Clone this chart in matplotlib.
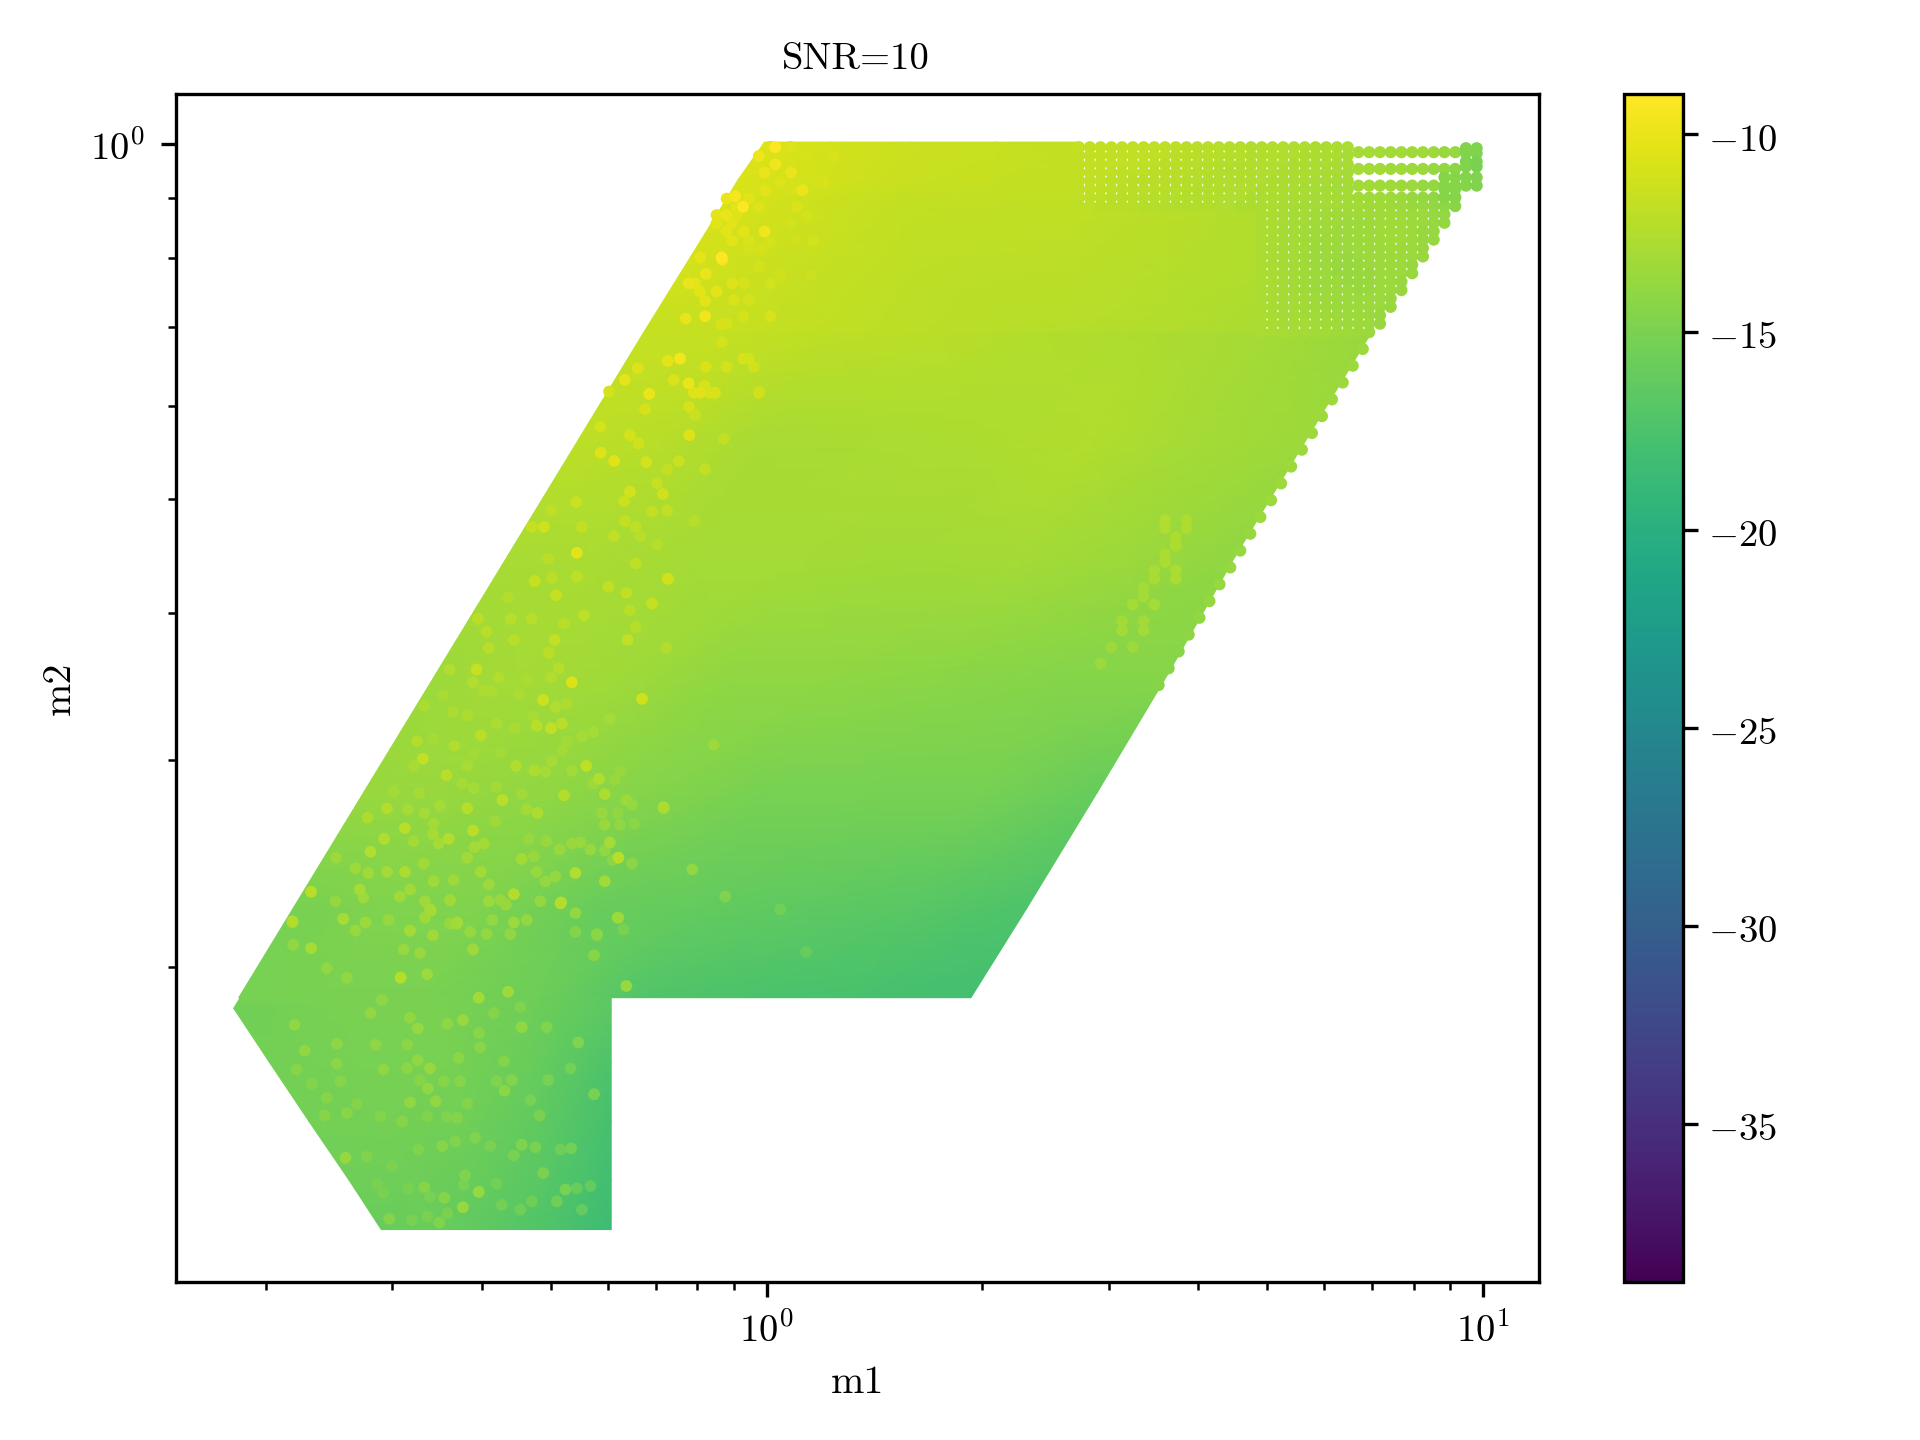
import numpy as np
import matplotlib
matplotlib.use("Agg")
import matplotlib.pyplot as plt
from matplotlib.colors import Normalize
from matplotlib.ticker import LogFormatterMathtext, NullFormatter
from matplotlib.transforms import ScaledTranslation

plt.rcParams['font.family'] = ['cmr10', 'DejaVu Sans']
plt.rcParams['mathtext.fontset'] = 'cm'
plt.rcParams['axes.formatter.use_mathtext'] = True
plt.rcParams['axes.unicode_minus'] = False

# smooth body of the cloud: four patches, row by row
top_m2 = [[0.002] * 5, [-0.03] * 5, [-0.05] * 5]
top_m1 = [[-0.003, 0.09, 0.20, 0.32, 0.436],
          [-0.04, 0.07, 0.20, 0.32, 0.436],
          [-0.06, 0.06, 0.20, 0.32, 0.436]]
top_val = [[-10.6, -11.0, -11.4, -11.5, -11.7],
           [-10.7, -11.1, -11.5, -11.6, -11.8],
           [-10.8, -11.3, -11.7, -11.8, -11.9]]

mid_m2 = [[-0.05] * 6, [-0.11] * 6, [-0.16] * 6]
mid_m1 = [[-0.06, 0.06, 0.20, 0.436, 0.56, 0.691],
          [-0.121, 0.02, 0.20, 0.436, 0.56, 0.691],
          [-0.172, -0.02, 0.15, 0.436, 0.56, 0.691]]
mid_val = [[-10.8, -11.3, -11.8, -11.9, -12.1, -12.4],
           [-11.0, -11.5, -12.0, -12.1, -12.3, -12.6],
           [-11.6, -11.6, -12.0, -12.3, -12.5, -12.8]]

main_m2 = [[-0.16] * 8, [-0.25] * 8, [-0.35] * 8, [-0.45] * 8,
           [-0.55] * 8, [-0.65] * 8, [-0.725] * 8]
main_m1 = [[-0.172, -0.06, 0.09, 0.24, 0.39, 0.54, 0.69, 0.844],
           [-0.262, -0.15, 0.00, 0.15, 0.30, 0.45, 0.60, 0.754],
           [-0.362, -0.25, -0.10, 0.05, 0.20, 0.35, 0.50, 0.654],
           [-0.462, -0.35, -0.20, -0.05, 0.10, 0.25, 0.40, 0.560],
           [-0.562, -0.45, -0.30, -0.15, 0.00, 0.15, 0.30, 0.462],
           [-0.662, -0.55, -0.40, -0.25, -0.10, 0.05, 0.20, 0.362],
           [-0.737, -0.625, -0.475, -0.325, -0.175, -0.025, 0.125, 0.285]]
main_val = [[-11.6, -11.6, -12.0, -12.1, -12.4, -12.7, -13.0, -13.6],
            [-12.0, -12.2, -12.9, -12.8, -12.7, -12.5, -13.0, -13.4],
            [-12.9, -12.8, -13.0, -13.1, -13.2, -13.1, -13.4, -14.0],
            [-13.4, -13.1, -13.3, -14.0, -14.0, -14.2, -14.5, -14.4],
            [-13.6, -13.6, -14.0, -14.6, -15.2, -15.2, -15.2, -16.0],
            [-15.2, -14.8, -14.8, -15.8, -16.2, -16.5, -16.8, -17.4],
            [-15.2, -15.0, -15.0, -15.6, -17.2, -17.5, -17.7, -18.0]]

low_m2 = [[-0.725] * 5, [-0.734] * 5, [-0.78] * 5, [-0.83] * 5,
          [-0.88] * 5, [-0.922] * 5]
low_m1 = [[-0.735, -0.60, -0.45, -0.33, -0.217],
          [-0.744, -0.60, -0.45, -0.33, -0.217],
          [-0.694, -0.57, -0.44, -0.33, -0.217],
          [-0.639, -0.53, -0.42, -0.32, -0.217],
          [-0.583, -0.49, -0.40, -0.31, -0.217],
          [-0.538, -0.46, -0.38, -0.30, -0.217]]
low_val = [[-15.2, -15.0, -15.0, -15.6, -16.5],
           [-15.5, -15.0, -15.0, -15.6, -16.6],
           [-15.4, -15.1, -15.2, -15.8, -17.4],
           [-15.4, -15.3, -15.5, -16.3, -17.8],
           [-15.6, -15.6, -16.0, -16.8, -18.1],
           [-16.0, -15.9, -16.6, -17.4, -18.4]]

# regular columns of dots at the upper right
grid_m1 = [0.436, 0.451, 0.466, 0.481, 0.496, 0.511, 0.526, 0.541, 0.556, 0.571,
           0.586, 0.601, 0.616, 0.631, 0.646, 0.661, 0.676, 0.691, 0.706, 0.721,
           0.736, 0.751, 0.766, 0.781, 0.796, 0.811, 0.826, 0.841, 0.856, 0.871,
           0.886, 0.901, 0.916, 0.931, 0.946, 0.961, 0.976, 0.991]
grid_m2 = [-0.0024, -0.0095, -0.0167, -0.0238, -0.0309, -0.0381,
           -0.0452, -0.0524,
           -0.0595, -0.0666, -0.0738, -0.0809, -0.0881, -0.0952, -0.1023,
           -0.1095, -0.1166, -0.1238, -0.1309, -0.138, -0.1452, -0.1523, -0.1595,
           -0.0066, -0.0208, -0.035,
           -0.0032, -0.0075, -0.0146, -0.0189, -0.028, -0.035,
           -0.028, -0.038, -0.045]
grid_first = [0, 0, 0, 0, 0, 0,
              0, 0,
              17, 17, 17, 17, 17, 17, 17, 17, 17, 17, 17, 17, 17, 17, 17,
              26, 26, 26,
              36, 36, 36, 36, 36, 36,
              34, 34, 34]
grid_val = [
    [-11.6, -11.7, -11.7, -11.8, -11.8, -11.9, -11.9, -11.9, -12.0, -12.0, -12.1, -12.1, -12.2,
     -12.2, -12.3, -12.3, -12.4, -12.4, -12.5, -12.5, -12.6, -12.6, -12.7, -12.7, -12.8, -12.8],
    [-11.7, -11.7, -11.8, -11.8, -11.9, -11.9, -11.9, -12.0, -12.0, -12.1, -12.1, -12.2, -12.2,
     -12.3, -12.3, -12.3, -12.4, -12.5, -12.5, -12.6, -12.6, -12.7, -12.7, -12.8, -12.8, -12.9],
    [-11.7, -11.8, -11.8, -11.9, -11.9, -11.9, -12.0, -12.0, -12.1, -12.1, -12.2, -12.2, -12.3,
     -12.3, -12.3, -12.4, -12.4, -12.5, -12.6, -12.6, -12.7, -12.7, -12.8, -12.8, -12.9, -12.9],
    [-11.8, -11.8, -11.9, -11.9, -12.0, -12.0, -12.0, -12.1, -12.1, -12.2, -12.2, -12.3, -12.3,
     -12.4, -12.4, -12.4, -12.5, -12.6, -12.6, -12.7, -12.7, -12.8, -12.8, -12.9, -12.9, -13.0],
    [-11.8, -11.9, -11.9, -12.0, -12.0, -12.1, -12.1, -12.1, -12.2, -12.2, -12.3, -12.3, -12.4,
     -12.4, -12.5, -12.5, -12.6, -12.6, -12.7, -12.7, -12.8, -12.8, -12.9, -12.9, -13.0, -13.0],
    [-11.9, -11.9, -12.0, -12.0, -12.1, -12.1, -12.2, -12.2, -12.2, -12.3, -12.3, -12.4, -12.4,
     -12.5, -12.5, -12.6, -12.6, -12.7, -12.7, -12.8, -12.8, -12.9, -12.9, -13.0, -13.0, -13.1],
    [-11.9, -12.0, -12.0, -12.1, -12.1, -12.2, -12.2, -12.3, -12.3, -12.3, -12.4, -12.4, -12.5,
     -12.5, -12.6, -12.6, -12.7, -12.7, -12.8, -12.8, -12.9, -12.9, -13.0, -13.0, -13.1, -13.1,
     -13.2, -13.3, -13.3, -13.3, -13.4, -13.6, -13.8, -14.0, -14.2, -14.4],
    [-12.0, -12.0, -12.1, -12.1, -12.2, -12.2, -12.3, -12.3, -12.4, -12.4, -12.5, -12.5, -12.5,
     -12.6, -12.6, -12.7, -12.7, -12.8, -12.8, -12.9, -12.9, -13.0, -13.0, -13.1, -13.1, -13.2,
     -13.2, -13.3, -13.3, -13.4, -13.5, -13.6, -13.8, -13.9, -14.1, -14.3],
    [-12.7, -12.8, -12.9, -13.0, -13.1, -13.2, -13.2, -13.3, -13.3, -13.3, -13.3, -13.3, -13.3, -13.3, -13.4, -13.5, -13.7, -13.9],
    [-12.7, -12.8, -12.9, -13.0, -13.1, -13.2, -13.3, -13.3, -13.4, -13.4, -13.4, -13.3, -13.3, -13.3, -13.4, -13.5, -13.7, -13.9],
    [-12.8, -12.8, -13.0, -13.0, -13.2, -13.3, -13.3, -13.4, -13.4, -13.4, -13.4, -13.3, -13.3, -13.3, -13.4, -13.6, -13.8],
    [-12.8, -12.9, -13.0, -13.1, -13.2, -13.3, -13.4, -13.4, -13.5, -13.5, -13.4, -13.4, -13.3, -13.3, -13.4, -13.6, -13.8],
    [-12.8, -12.9, -13.0, -13.1, -13.2, -13.4, -13.4, -13.5, -13.5, -13.5, -13.4, -13.4, -13.3, -13.4, -13.5, -13.6],
    [-12.8, -12.9, -13.0, -13.1, -13.3, -13.4, -13.5, -13.5, -13.6, -13.5, -13.5, -13.4, -13.4, -13.4, -13.5, -13.6],
    [-12.8, -12.9, -13.0, -13.1, -13.3, -13.4, -13.5, -13.6, -13.6, -13.6, -13.5, -13.5, -13.4, -13.5, -13.6],
    [-12.8, -12.9, -13.0, -13.2, -13.3, -13.4, -13.5, -13.6, -13.6, -13.6, -13.6, -13.5, -13.5, -13.5, -13.6],
    [-12.8, -12.9, -13.0, -13.2, -13.3, -13.4, -13.5, -13.5, -13.6, -13.6, -13.6, -13.5, -13.5, -13.6],
    [-12.8, -12.9, -13.0, -13.2, -13.3, -13.4, -13.5, -13.5, -13.5, -13.6, -13.6, -13.5, -13.5, -13.6],
    [-12.8, -12.9, -13.0, -13.1, -13.2, -13.3, -13.4, -13.5, -13.5, -13.5, -13.5, -13.5, -13.6],
    [-12.8, -12.9, -13.0, -13.1, -13.2, -13.3, -13.4, -13.5, -13.5, -13.5, -13.5, -13.5, -13.6],
    [-12.8, -12.9, -13.0, -13.1, -13.2, -13.2, -13.3, -13.4, -13.4, -13.5, -13.5, -13.6],
    [-12.8, -12.9, -13.0, -13.0, -13.1, -13.2, -13.3, -13.3, -13.4, -13.4, -13.5, -13.6],
    [-12.8, -12.9, -12.9, -13.0, -13.1, -13.2, -13.2, -13.3, -13.3, -13.4, -13.5],
    [-13.0, -13.1, -13.1, -13.2, -13.2, -13.3, -13.3, -13.4, -13.6, -13.8],
    [-13.1, -13.2, -13.2, -13.3, -13.3, -13.4, -13.5, -13.7, -13.9, -14.2],
    [-13.2, -13.2, -13.3, -13.3, -13.4, -13.5, -13.7, -13.9, -14.1, -14.4],
    [-14.7, -14.8], [-14.7, -14.8], [-14.8, -15.0], [-14.8, -15.0], [-14.6, -14.7], [-14.6, -14.7],
    [-14.4, -14.5], [-14.4, -14.5], [-14.4, -14.5],
]

# scalloped edge on the right side
edge_m2 = [-0.1738, -0.188, -0.2023, -0.2166, -0.2309, -0.2452, -0.2594, -0.2737, -0.288, -0.3023,
           -0.3166, -0.3308, -0.3451, -0.3594, -0.3737, -0.388, -0.4022, -0.4165, -0.4308, -0.4451,
           -0.4594]
edge_m1 = [0.832, 0.818, 0.804, 0.789, 0.775, 0.761, 0.747, 0.732, 0.718, 0.704,
           0.689, 0.675, 0.661, 0.647, 0.632, 0.618, 0.604, 0.589, 0.575, 0.561, 0.547]
edge_val = [-13.5, -13.5, -13.5, -13.5, -13.4, -13.4, -13.4, -13.4, -13.4, -13.5,
            -13.5, -13.6, -13.7, -13.8, -13.8, -13.9, -14.0, -14.1, -14.2, -14.3, -14.4]

# stray brighter dots
speck_m1 = [-0.662, -0.591, -0.470, -0.433, -0.288, -0.207, -0.498, -0.410, -0.511, -0.474, -0.402, -0.361,
            -0.196, -0.424, -0.342, -0.487, -0.659, -0.645, -0.470, -0.487, -0.263, -0.356, -0.366, -0.473,
            -0.498, -0.462, -0.586, -0.617, -0.241, -0.432, -0.317, -0.588, -0.453, -0.342, -0.323, -0.312,
            -0.478, -0.402, -0.424, -0.450, -0.527, -0.457, -0.281, -0.421, -0.273, -0.241, -0.237,
            -0.138, -0.074, -0.144, -0.062, -0.138, -0.164, -0.087, -0.010, 0.116,
            -0.104, 0.019, 0.055, -0.058, -0.207,
            -0.232, -0.198, -0.113, -0.044, 0.012, -0.033, -0.063, -0.003, -0.086, 0.012, -0.011, -0.003,
            0.034, 0.050, -0.048, 0.005, -0.121, -0.109, -0.093, -0.011, -0.033,
            -0.213, -0.168, -0.123, -0.108, -0.191, -0.232, -0.179, -0.086, -0.139, -0.153, -0.191, -0.145,
            -0.266, -0.199, -0.160, -0.301, -0.139, -0.198, -0.101, -0.328, -0.311, -0.258, -0.183, -0.213,
            -0.176, -0.153, -0.265, -0.305, -0.183, -0.324, -0.300, -0.265, -0.138, -0.294, -0.221, -0.196,
            -0.160, -0.361, -0.191, -0.255, -0.403, -0.357, -0.328, -0.283, -0.183, -0.391, -0.353, -0.296,
            -0.194, -0.388, -0.140, -0.304,
            -0.272, -0.312, -0.174, -0.405, -0.290, -0.321, -0.301, -0.286, -0.399, -0.436, -0.480, -0.488,
            -0.252, -0.350, -0.447, -0.324, -0.234, -0.226, -0.283, -0.369, -0.144, -0.418, -0.530, -0.557,
            -0.320, -0.410, -0.505, -0.444, -0.534, -0.219, -0.553, -0.342, -0.505, -0.399, -0.267, -0.226,
            -0.636, -0.568, -0.353, -0.287, -0.469, -0.591, -0.662, -0.432, -0.498, -0.208, -0.636, -0.466,
            -0.237, -0.353,
            -0.109, -0.085, -0.048, -0.056, 0.042, 0.065, -0.011, -0.056, -0.025, -0.093, -0.032, -0.086,
            -0.025, -0.085, -0.22, -0.17, -0.13, -0.18, -0.10, -0.06,
            0.556, 0.556, 0.571, 0.571, 0.556, 0.556, 0.541, 0.541, 0.571, 0.571, 0.526, 0.526,
            0.511, 0.541, 0.496, 0.496, 0.526, 0.526, 0.481, 0.511, 0.466, 0.586, 0.586]
speck_m2 = [-0.661, -0.658, -0.650, -0.662, -0.645, -0.657, -0.668, -0.684, -0.708, -0.705, -0.725, -0.720,
            -0.715, -0.744, -0.750, -0.751, -0.748, -0.770, -0.785, -0.778, -0.763, -0.795, -0.804, -0.802,
            -0.814, -0.813, -0.823, -0.825, -0.807, -0.827, -0.825, -0.861, -0.851, -0.850, -0.852, -0.874,
            -0.886, -0.890, -0.903, -0.895, -0.913, -0.916, -0.888, -0.876, -0.853, -0.689, -0.672,
            -0.369, -0.510, -0.564, -0.098, -0.184, -0.212, -0.205, -0.210, -0.281,
            -0.616, -0.650, -0.686, -0.639, -0.606,
            -0.262, -0.200, -0.148, -0.044, -0.0024, -0.053, -0.096, -0.074, -0.146, -0.017, -0.0098, -0.024,
            -0.024, -0.039, -0.082, -0.146, -0.182, -0.203, -0.211, -0.211, -0.182,
            -0.269, -0.270, -0.269, -0.247, -0.247, -0.240, -0.254, -0.276, -0.276, -0.288, -0.295, -0.297,
            -0.304, -0.303, -0.312, -0.311, -0.311, -0.320, -0.320, -0.325, -0.325, -0.325, -0.325, -0.333,
            -0.333, -0.340, -0.347, -0.352, -0.356, -0.371, -0.368, -0.367, -0.369, -0.383, -0.376, -0.381,
            -0.390, -0.385, -0.396, -0.400, -0.403, -0.403, -0.403, -0.407, -0.410, -0.414, -0.421, -0.421,
            -0.421, -0.428, -0.428, -0.432,
            -0.457, -0.472, -0.471, -0.446, -0.445, -0.494, -0.496, -0.492, -0.502, -0.511, -0.522, -0.507,
            -0.528, -0.528, -0.536, -0.532, -0.539, -0.552, -0.553, -0.557, -0.563, -0.564, -0.564, -0.572,
            -0.568, -0.583, -0.581, -0.590, -0.590, -0.593, -0.601, -0.607, -0.618, -0.618, -0.619, -0.626,
            -0.635, -0.633, -0.637, -0.644, -0.651, -0.658, -0.660, -0.661, -0.668, -0.657, -0.683, -0.672,
            -0.671, -0.661,
            -0.118, -0.110, -0.118, -0.152, -0.053, -0.082, -0.053, -0.060, -0.089, -0.096, -0.118, -0.133,
            -0.182, -0.189, -0.21, -0.225, -0.20, -0.19, -0.23, -0.25,
            -0.319, -0.326, -0.334, -0.341, -0.348, -0.355, -0.362, -0.369, -0.362, -0.369, -0.377, -0.384,
            -0.391, -0.391, -0.405, -0.413, -0.405, -0.413, -0.427, -0.427, -0.441, -0.319, -0.326]
speck_val = [-13.2, -13.2, -13.0, -13.0, -12.8, -13.8, -13.4, -13.4, -12.3, -13.5, -13.2, -13.4,
             -13.8, -13.6, -14.0, -13.8, -14.0, -14.0, -13.6, -14.0, -14.8, -14.6, -14.2, -14.0,
             -14.0, -14.0, -14.3, -14.5, -15.2, -14.6, -15.0, -13.8, -14.4, -14.8, -15.0, -15.0,
             -14.5, -13.8, -13.8, -14.4, -14.6, -14.8, -15.2, -14.8, -15.4, -14.5, -14.7,
             -11.0, -13.5, -13.0, -9.6, -10.2, -10.0, -10.8, -11.6, -12.8,
             -14.0, -15.5, -16.0, -14.8, -12.2,
             -10.6, -10.2, -10.1, -9.4, -9.1, -9.2, -9.0, -9.7, -9.6, -9.7, -9.8, -10.0,
             -10.0, -10.0, -10.3, -10.8, -9.5, -10.0, -10.5, -11.2, -10.8,
             -10.5, -11.0, -11.4, -10.6, -11.1, -11.0, -11.2, -11.8, -11.8, -11.6, -11.0, -11.2,
             -11.4, -11.4, -11.8, -12.0, -11.9, -11.7, -12.3, -11.6, -11.3, -11.8, -12.0, -11.9,
             -12.2, -12.3, -10.3, -12.1, -12.0, -11.6, -12.1, -12.0, -11.2, -11.6, -11.8, -11.9,
             -11.6, -12.4, -12.1, -12.0, -12.1, -12.2, -12.2, -12.2, -12.3, -12.2, -12.2, -11.7,
             -11.9, -12.2, -12.5, -12.1,
             -10.7, -11.4, -11.2, -11.6, -12.3, -12.2, -11.9, -12.2, -12.1, -12.6, -11.8, -12.5,
             -12.0, -12.6, -12.2, -12.7, -12.6, -12.7, -12.4, -12.2, -12.8, -12.3, -12.4, -12.7,
             -12.7, -12.2, -12.2, -12.4, -12.6, -13.0, -12.6, -13.2, -12.8, -13.2, -12.6, -13.2,
             -12.2, -13.0, -12.5, -12.4, -13.0, -13.0, -12.4, -13.2, -13.2, -13.5, -13.0, -13.3,
             -14.2, -13.5,
             -10.0, -10.0, -10.6, -10.9, -10.7, -11.0, -10.6, -10.0, -11.0, -10.2, -10.9, -10.4,
             -11.0, -10.8, -11.0, -10.9, -10.7, -10.6, -11.5, -11.8,
             -12.6, -12.6, -12.7, -12.7, -12.8, -12.8, -12.9, -12.9, -12.8, -12.8, -13.0, -13.0,
             -13.1, -13.1, -13.2, -13.2, -13.2, -13.2, -13.4, -13.4, -13.5, -12.7, -12.7]

# fainter dots of the left band, lower middle part
faint_m1 = [-0.195, -0.176, -0.219, -0.242, -0.258, -0.279, -0.286, -0.300, -0.272, -0.309, -0.204, -0.212,
            -0.242, -0.226, -0.205, -0.185, -0.230, -0.208, -0.196, -0.188, -0.260, -0.272, -0.308, -0.289,
            -0.246, -0.226, -0.215, -0.188, -0.267, -0.309, -0.295, -0.321, -0.372, -0.409, -0.418, -0.493,
            -0.465, -0.451, -0.438, -0.478, -0.418, -0.377, -0.351, -0.395, -0.384, -0.346, -0.326, -0.295,
            -0.279, -0.335, -0.301, -0.374, -0.443, -0.410, -0.425, -0.409, -0.377, -0.342, -0.485, -0.521,
            -0.501, -0.478, -0.456, -0.379, -0.335, -0.465, -0.493, -0.466, -0.458, -0.408, -0.395, -0.332,
            -0.325, -0.418, -0.479, -0.530, -0.574, -0.601, -0.556, -0.477, -0.442, -0.388, -0.372, -0.364,
            -0.316, -0.335, -0.383, -0.442, -0.477, -0.560, -0.528, -0.574, -0.507, -0.484, -0.414, -0.391,
            -0.358, -0.267, -0.200, -0.661, -0.602, -0.563, -0.512, -0.498, -0.465, -0.437, -0.388]
faint_m2 = [-0.457, -0.460, -0.488, -0.499, -0.503, -0.507, -0.515, -0.524, -0.532, -0.533, -0.532, -0.540,
            -0.543, -0.578, -0.578, -0.577, -0.568, -0.568, -0.557, -0.561, -0.593, -0.594, -0.592, -0.599,
            -0.599, -0.600, -0.608, -0.611, -0.653, -0.626, -0.622, -0.618, -0.517, -0.518, -0.528, -0.528,
            -0.505, -0.468, -0.482, -0.477, -0.485, -0.492, -0.496, -0.464, -0.464, -0.467, -0.486, -0.478,
            -0.475, -0.455, -0.453, -0.453, -0.446, -0.457, -0.543, -0.547, -0.546, -0.552, -0.551, -0.550,
            -0.565, -0.568, -0.562, -0.575, -0.565, -0.577, -0.592, -0.586, -0.594, -0.597, -0.594, -0.590,
            -0.605, -0.606, -0.611, -0.618, -0.615, -0.606, -0.619, -0.643, -0.642, -0.643, -0.642, -0.646,
            -0.643, -0.659, -0.659, -0.662, -0.657, -0.661, -0.659, -0.668, -0.684, -0.687, -0.669, -0.671,
            -0.671, -0.669, -0.667, -0.680, -0.643, -0.640, -0.639, -0.633, -0.626, -0.625, -0.629]
faint_val = [-13.4, -13.5, -13.0, -13.1, -13.1, -13.2, -13.2, -13.1, -13.2, -13.0, -13.6, -13.6,
             -13.4, -13.6, -14.0, -14.2, -13.6, -14.0, -13.4, -13.8, -13.6, -13.6, -13.6, -13.6,
             -13.7, -14.0, -14.2, -14.2, -14.0, -13.9, -13.9, -13.7, -13.2, -13.2, -12.9, -12.9,
             -13.0, -12.9, -12.8, -12.8, -12.7, -12.8, -12.9, -12.7, -12.7, -12.8, -12.9, -12.6,
             -12.7, -12.8, -12.6, -12.6, -12.6, -12.6, -13.1, -13.0, -13.2, -13.3, -13.1, -13.2,
             -13.1, -13.0, -13.1, -13.4, -13.2, -13.2, -13.2, -13.0, -13.1, -13.2, -13.2, -13.6,
             -13.6, -13.3, -13.3, -13.2, -13.4, -13.5, -13.3, -13.4, -13.3, -13.5, -13.6, -13.6,
             -13.9, -13.9, -13.9, -13.6, -13.4, -13.4, -13.6, -13.7, -13.8, -13.6, -13.7, -13.9,
             -14.0, -14.6, -15.0, -14.0, -13.9, -13.5, -13.3, -13.3, -13.3, -13.4, -13.5]

# fainter dots at the lower left corner
corner_m1 = [-0.614, -0.586, -0.537, -0.553, -0.498, -0.446, -0.402, -0.502, -0.546, -0.600, -0.656, -0.600,
             -0.535, -0.502, -0.430, -0.400, -0.367, -0.451, -0.428, -0.484, -0.595, -0.635, -0.614, -0.572,
             -0.539, -0.509, -0.474, -0.446, -0.418, -0.377, -0.330, -0.305, -0.274, -0.307, -0.344, -0.381,
             -0.544, -0.535, -0.500, -0.470, -0.423, -0.377, -0.370, -0.328, -0.344, -0.293, -0.258, -0.446,
             -0.474, -0.495, -0.558, -0.523, -0.486, -0.435, -0.407, -0.386, -0.353, -0.288, -0.265, -0.246]
corner_m2 = [-0.700, -0.708, -0.727, -0.738, -0.742, -0.747, -0.755, -0.765, -0.765, -0.764, -0.786, -0.781,
             -0.786, -0.785, -0.776, -0.767, -0.779, -0.796, -0.796, -0.795, -0.796, -0.798, -0.810, -0.815,
             -0.826, -0.830, -0.826, -0.826, -0.815, -0.796, -0.812, -0.795, -0.785, -0.750, -0.733, -0.738,
             -0.883, -0.891, -0.887, -0.894, -0.884, -0.883, -0.901, -0.898, -0.905, -0.898, -0.905, -0.908,
             -0.911, -0.914, -0.860, -0.868, -0.854, -0.847, -0.844, -0.851, -0.859, -0.854, -0.887, -0.885]
corner_val = [-14.0, -14.0, -14.1, -14.0, -14.0, -14.1, -14.3, -14.2, -14.1, -14.1, -14.4, -14.2,
              -14.1, -14.2, -14.2, -14.3, -14.6, -14.4, -14.5, -14.5, -14.5, -14.6, -14.4, -14.6,
              -14.6, -14.5, -14.7, -14.7, -14.6, -14.8, -15.2, -15.2, -15.4, -14.8, -14.8, -14.6,
              -15.0, -15.0, -15.0, -15.2, -15.2, -15.4, -15.4, -15.6, -15.6, -15.6, -16.2, -15.0,
              -15.0, -15.0, -14.8, -14.9, -14.8, -14.8, -14.8, -15.0, -15.2, -15.6, -16.0, -16.2]

# fainter dots at the top of the left band
band_m1 = [0.005, 0.033, 0.056, 0.093, 0.079, 0.019, 0.072, 0.042, -0.002, -0.025, -0.042, -0.056,
           -0.070, -0.041, -0.032, -0.056, -0.070, 0.056, 0.033, 0.005, -0.025, -0.049, 0.042, -0.011,
           -0.009, -0.100, -0.093, -0.070, -0.025, -0.046, 0.005, 0.019, 0.061, -0.063, -0.033, -0.063,
           -0.056, -0.018, -0.102, -0.079, -0.072, -0.108]
band_m2 = [-0.002, -0.002, -0.010, -0.010, -0.032, -0.032, -0.032, -0.039, -0.039, -0.046, -0.053, -0.046,
           -0.060, -0.060, -0.074, -0.074, -0.067, -0.061, -0.067, -0.083, -0.082, -0.067, -0.081, -0.104,
           -0.089, -0.118, -0.125, -0.125, -0.132, -0.132, -0.118, -0.111, -0.111, -0.168, -0.146, -0.153,
           -0.189, -0.189, -0.211, -0.211, -0.211, -0.223]
band_val = [-10.6, -10.6, -10.8, -10.8, -10.8, -10.6, -10.9, -10.8, -10.4, -10.4, -10.4, -10.0,
            -10.2, -10.6, -10.4, -10.4, -10.3, -11.0, -11.0, -11.0, -10.7, -10.4, -11.2, -11.0,
            -10.9, -10.2, -10.4, -10.4, -10.9, -10.8, -11.0, -11.2, -11.4, -11.0, -10.9, -10.8,
            -11.0, -11.2, -10.6, -10.8, -10.8, -10.9]

x_limits = [0.150, 11.97]
y_limits = [0.108, 1.103]
color_limits = [-39.0, -9.0]
color_ticks = [-35, -30, -25, -20, -15, -10]

norm = Normalize(color_limits[0], color_limits[1])

fig = plt.figure(figsize=(6.4, 4.8), dpi=300)
ax = fig.add_axes([0.0919, 0.1097, 0.7097, 0.8248])
cax = fig.add_axes([0.8458, 0.1097, 0.0310, 0.8248])

# smooth patches go in first, the dots sit on top
patches = [(top_m1, top_m2, top_val), (mid_m1, mid_m2, mid_val),
           (main_m1, main_m2, main_val), (low_m1, low_m2, low_val)]
for m1, m2, val in patches:
    ax.pcolormesh(10.0 ** np.array(m1), 10.0 ** np.array(m2), np.array(val),
                  shading='gouraud', cmap='viridis', norm=norm)

dots_x = list(edge_m1)
dots_y = list(edge_m2)
dots_c = list(edge_val)
for row, first, values in zip(grid_m2, grid_first, grid_val):
    for i, v in enumerate(values):
        dots_x.append(grid_m1[first + i])
        dots_y.append(row)
        dots_c.append(v)

sc = ax.scatter(10.0 ** np.array(dots_x), 10.0 ** np.array(dots_y), c=dots_c, s=8.5,
                linewidths=0, cmap='viridis', norm=norm)

# faint ones first so the bright ones stay on top
loose_m1 = np.array(faint_m1 + corner_m1 + band_m1 + speck_m1)
loose_m2 = np.array(faint_m2 + corner_m2 + band_m2 + speck_m2)
loose_val = faint_val + corner_val + band_val + speck_val
ax.scatter(10.0 ** loose_m1, 10.0 ** loose_m2, c=loose_val, s=8,
           linewidths=0, cmap='viridis', norm=norm)

ax.set_xscale('log')
ax.set_yscale('log')
ax.set_xlim(x_limits)
ax.set_ylim(y_limits)
ax.xaxis.set_major_formatter(LogFormatterMathtext())
ax.yaxis.set_major_formatter(LogFormatterMathtext())
ax.xaxis.set_minor_formatter(NullFormatter())
ax.yaxis.set_minor_formatter(NullFormatter())
ax.tick_params(labelsize=9.3)
ax.tick_params(axis='y', which='major', pad=4.1)
ax.set_title('SNR=10', fontsize=9.3, x=0.4985)
ax.set_xlabel('m1', fontsize=9.6, labelpad=4.0)
ax.set_ylabel('m2', fontsize=9.6, labelpad=3)

cb = fig.colorbar(sc, cax=cax)
cb.set_ticks(color_ticks)
cb.ax.tick_params(labelsize=9.3, pad=2.4)
# labels sit a little below their ticks in the reference
label_shift = ScaledTranslation(0, -3.5 / 300, fig.dpi_scale_trans)
for lab in cb.ax.get_yticklabels():
    lab.set_transform(lab.get_transform() + label_shift)

fig.savefig('out.png', dpi=300)
